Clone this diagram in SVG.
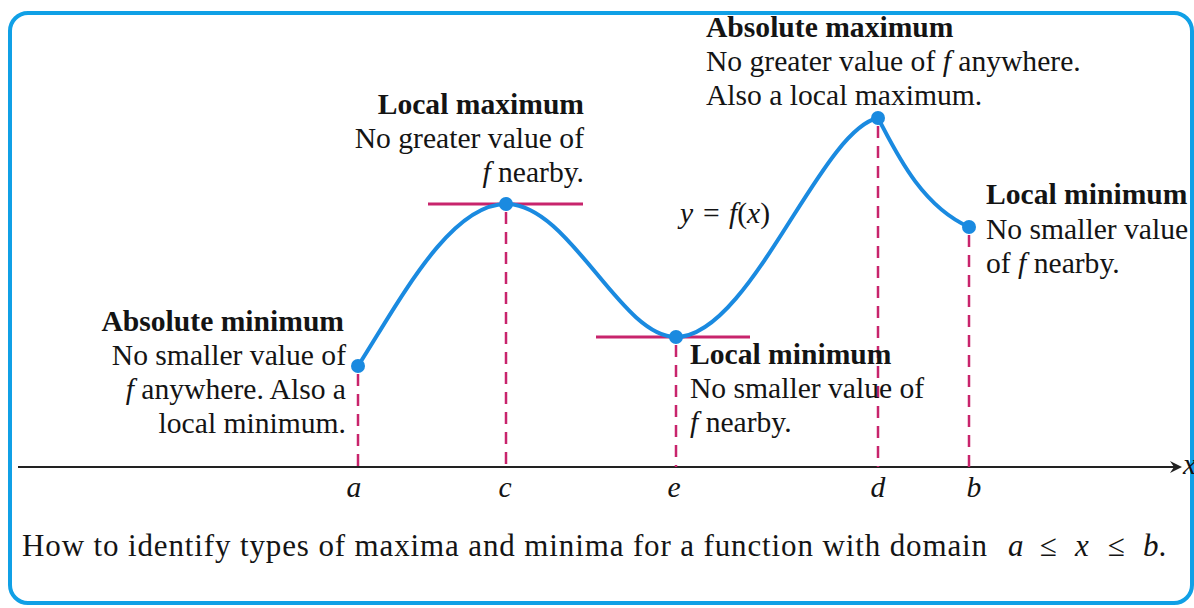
<svg xmlns="http://www.w3.org/2000/svg" width="1194" height="608" viewBox="0 0 1194 608">
<defs>
<style>
.t{font-family:"Liberation Serif","Times New Roman",serif;font-size:29.6px;fill:#141414}
.b{font-weight:bold}
.i{font-style:italic}
.r{text-anchor:end}
.m{text-anchor:middle}
.dash{stroke:#c8246c;stroke-width:2.5;stroke-dasharray:12 8;fill:none}
.tan{stroke:#c8246c;stroke-width:3;fill:none}
.dot{fill:#1a8ae0}
</style>
<marker id="arr" viewBox="0 0 12 12" refX="10" refY="6" markerWidth="12" markerHeight="12" markerUnits="userSpaceOnUse" orient="auto">
<path d="M0,0 L12,6 L0,12 L4,6 Z" fill="#222"/>
</marker>
</defs>
<rect x="0" y="0" width="1194" height="608" fill="#fff"/>
<rect x="10" y="13" width="1182" height="590" rx="18" fill="#fff" stroke="#10a0e6" stroke-width="4"/>

<g id="connectors">
<line x1="18" y1="467" x2="1180" y2="467" stroke="#222" stroke-width="2" marker-end="url(#arr)"/>
<line class="dash" x1="358" y1="374" x2="358" y2="467"/>
<line class="dash" x1="506" y1="212" x2="506" y2="467"/>
<line class="dash" x1="676" y1="345" x2="676" y2="467"/>
<line class="dash" x1="878" y1="126" x2="878" y2="467"/>
<line class="dash" x1="969" y1="235" x2="969" y2="467"/>
<line class="tan" x1="428" y1="204" x2="583" y2="204"/>
<line class="tan" x1="596" y1="337" x2="750" y2="337"/>
<path d="M358,366 C400,300 450,204 506,204 C570,204 620,337 676,337 C750,337 820,130 878,118 C895,150 920,205 969,227" fill="none" stroke="#1a8ae0" stroke-width="4" stroke-linecap="round"/>
</g>

<g id="node-absmin">
<circle class="dot" cx="358" cy="366" r="7"/>
<text class="t b r" x="344" y="331">Absolute minimum</text>
<text class="t r" x="346" y="365">No smaller value of</text>
<text class="t r" x="346" y="399"><tspan class="i">f</tspan> anywhere. Also a</text>
<text class="t r" x="346" y="433">local minimum.</text>
</g>

<g id="node-localmax">
<circle class="dot" cx="506" cy="204" r="7"/>
<text class="t b r" x="584" y="114">Local maximum</text>
<text class="t r" x="584" y="148">No greater value of</text>
<text class="t r" x="584" y="182"><tspan class="i">f</tspan> nearby.</text>
</g>

<g id="node-localmin-e">
<circle class="dot" cx="676" cy="337" r="7"/>
<text class="t b" x="690" y="364">Local minimum</text>
<text class="t" x="690" y="398">No smaller value of</text>
<text class="t" x="690" y="432"><tspan class="i">f</tspan> nearby.</text>
</g>

<g id="node-absmax">
<circle class="dot" cx="878" cy="118" r="7"/>
<text class="t b" x="706" y="37">Absolute maximum</text>
<text class="t" x="706" y="71">No greater value of <tspan class="i">f</tspan> anywhere.</text>
<text class="t" x="706" y="105">Also a local maximum.</text>
</g>

<g id="node-localmin-b">
<circle class="dot" cx="969" cy="227" r="7"/>
<text class="t b" x="986" y="204">Local minimum</text>
<text class="t" x="986" y="239">No smaller value</text>
<text class="t" x="986" y="273">of <tspan class="i">f</tspan> nearby.</text>
</g>

<g id="labels">
<text class="t" y="223"><tspan class="i" x="680">y</tspan><tspan x="703">=</tspan><tspan class="i" x="729">f</tspan>(<tspan class="i">x</tspan>)</text>
<text class="t i m" x="354" y="497">a</text>
<text class="t i m" x="505" y="497">c</text>
<text class="t i m" x="674" y="497">e</text>
<text class="t i m" x="878" y="497">d</text>
<text class="t i m" x="974" y="497">b</text>
<text class="t i" x="1183" y="474">x</text>
<text class="t" x="22" y="556" style="font-size:31px" textLength="965" lengthAdjust="spacing">How to identify types of maxima and minima for a function with domain</text>
<text class="t" y="556" style="font-size:31px"><tspan class="i" x="1008">a</tspan><tspan x="1040">≤</tspan><tspan class="i" x="1075">x</tspan><tspan x="1108">≤</tspan><tspan class="i" x="1143">b</tspan>.</text>
</g>
</svg>
